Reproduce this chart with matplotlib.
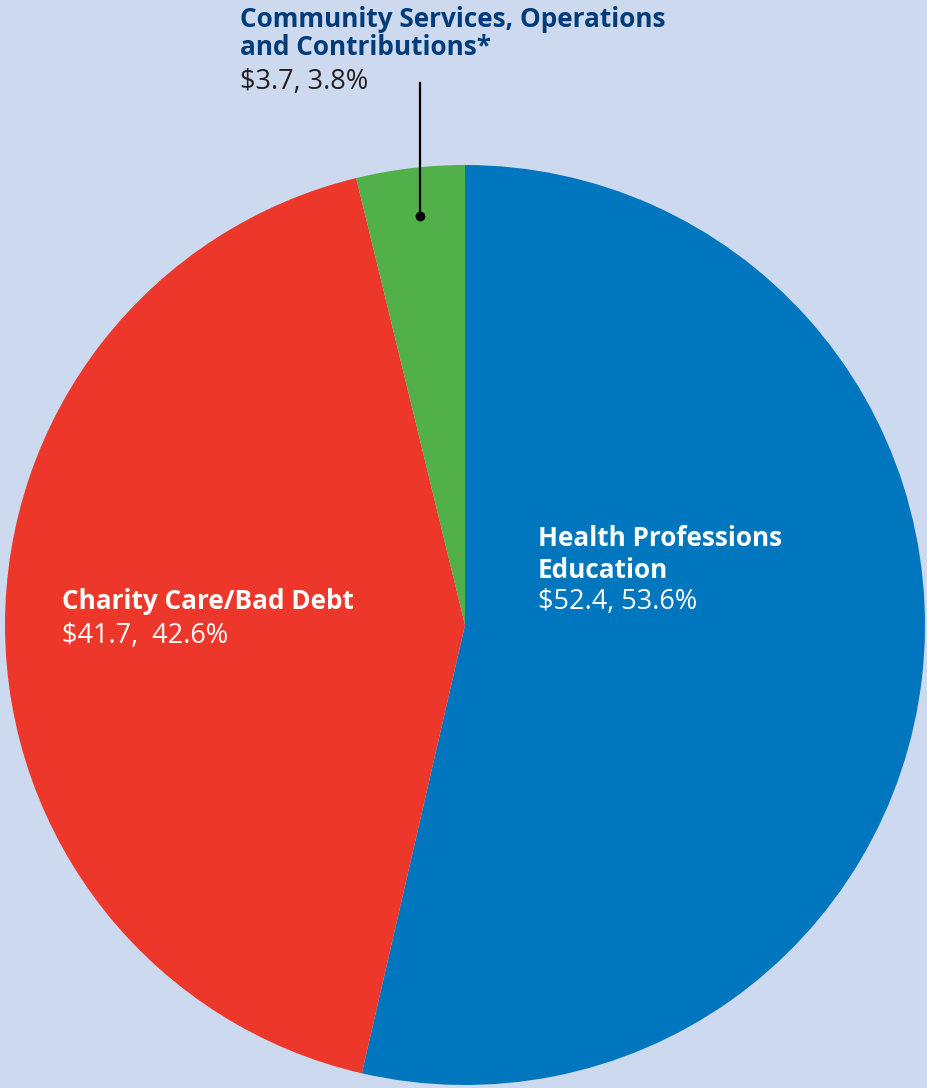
import matplotlib.pyplot as plt

# -----------------------------
# data
# -----------------------------
categories = ["Health Professions\nEducation", "Charity Care/Bad Debt",
              "Community Services, Operations\nand Contributions*"]
amounts = [52.4, 41.7, 3.7]
percents = [53.6, 42.6, 3.8]
value_labels = ["$52.4, 53.6%", "$41.7,  42.6%", "$3.7, 3.8%"]
colors = ["#0076BE", "#EE372B", "#52B04A"]

W, H = 928, 1088
bg = "#CCD9EE"

plt.rcParams['font.family'] = ['Open Sans', 'DejaVu Sans']

fig = plt.figure(figsize=(W / 100, H / 100), dpi=100, facecolor=bg)
ax = fig.add_axes([0, 0, 1, 1])

def Y(y):
    return H - y

# pie centred at (465, 625) px, radius 460 px
ax.pie(percents, colors=colors, startangle=90, counterclock=False,
       center=(465, Y(625)), radius=460,
       wedgeprops=dict(linewidth=0))
ax.set_xlim(0, W)
ax.set_ylim(0, H)
ax.set_aspect('equal')
ax.axis('off')

fs = 18.8
fs_val = 19.5
# blue label
ax.text(538, Y(546), "Health Professions", color="white", fontsize=fs, fontweight="bold")
ax.text(538, Y(578), "Education", color="white", fontsize=fs, fontweight="bold")
ax.text(538, Y(609), value_labels[0], color="white", fontsize=fs_val, fontweight="medium")

# red label
ax.text(62, Y(609), categories[1], color="white", fontsize=fs, fontweight="bold")
ax.text(62, Y(643), value_labels[1], color="white", fontsize=fs_val, fontweight="medium")

# green label (outside, top)
ax.text(240, Y(27), "Community Services, Operations", color="#003B7A", fontsize=fs, fontweight="bold")
ax.text(240, Y(55), "and Contributions*", color="#003B7A", fontsize=fs, fontweight="bold")
ax.text(240, Y(89), value_labels[2], color="#231F20", fontsize=fs_val, fontweight="medium")

# leader line
ax.plot([420, 420], [Y(83), Y(216)], color="black", linewidth=1.6)
ax.plot([420], [Y(216)], 'o', color="black", markersize=6)

fig.savefig("out.png", dpi=100, facecolor=bg)
